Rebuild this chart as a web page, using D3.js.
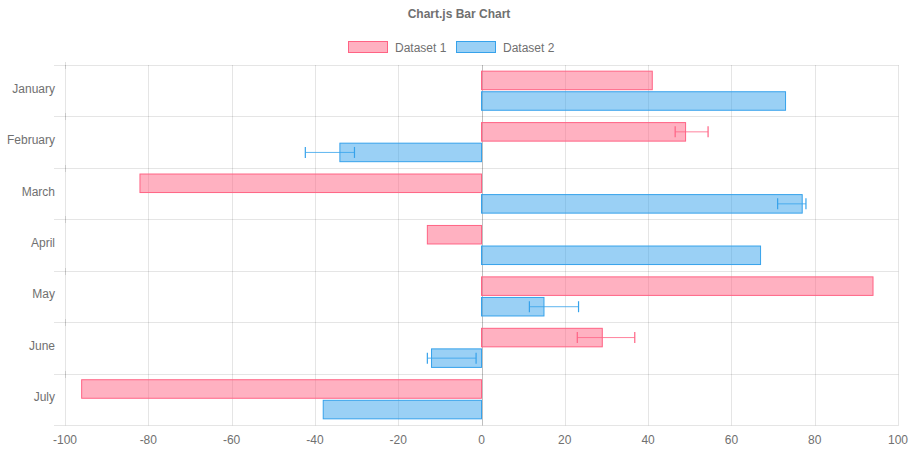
<!DOCTYPE html>
<html>
<head>
<meta charset="utf-8">
<script src="https://cdn.jsdelivr.net/npm/d3@7"></script>
<style>
  html, body { margin: 0; padding: 0; background: #fff; }
  svg { display: block; font-family: "Liberation Sans", Arial, Helvetica, sans-serif; }
</style>
</head>
<body>
<svg id="chart" width="918" height="450"></svg>
<script>
const categories = ["January", "February", "March", "April", "May", "June", "July"];
const seriesNames = ["Dataset 1", "Dataset 2"];
const dataset1 = [41, 49, -82, -13, 94, 29, -96];
const dataset2 = [73, -34, 77, 67, 15, -12, -38];
// error bars [min, max] or null
const errors1 = [null, [46.5, 54.4], null, null, null, [23, 36.8], null];
const errors2 = [null, [-42.3, -30.5], [71.1, 77.9], null, [11.5, 23.3], [-13.0, -1.3], null];
const xTicks = [-100, -80, -60, -40, -20, 0, 20, 40, 60, 80, 100];

const fills = ["rgba(255,99,132,0.5)", "rgba(54,162,235,0.5)"];
const strokes = ["rgb(255,99,132)", "rgb(54,162,235)"];
const gridColor = "rgba(0,0,0,0.1)";
const textColor = "#707070";

const svg = d3.select("#chart");
const pLeft = 65, pRight = 898, pTop = 65, pBottom = 425;

const x = d3.scaleLinear().domain([-100, 100]).range([pLeft, pRight]);
const y = d3.scaleBand().domain(categories).range([pTop, pBottom]);
const inner = d3.scaleBand().domain([0, 1]).range([0, y.bandwidth() * 0.8]);
const barH = inner.bandwidth() * 0.9;

// Title
svg.append("text").attr("x", 459).attr("y", 18).attr("text-anchor", "middle")
  .attr("font-size", 12).attr("font-weight", "bold").attr("fill", textColor)
  .text("Chart.js Bar Chart");

// Legend
const legendX = [348, 456];
seriesNames.forEach((name, i) => {
  svg.append("rect").attr("x", legendX[i] + 0.5).attr("y", 41.5).attr("width", 39).attr("height", 11)
    .attr("fill", fills[i]).attr("stroke", strokes[i]).attr("stroke-width", 1);
  svg.append("text").attr("x", legendX[i] + 47).attr("y", 51.5)
    .attr("font-size", 12).attr("fill", textColor).text(name);
});

const g = svg.append("g");

// Horizontal grid lines at category boundaries
const bounds = categories.map(c => y(c)).concat([pBottom]);
bounds.forEach(b => {
  g.append("line").attr("x1", 54).attr("x2", pRight + 0.5)
    .attr("y1", Math.round(b) + 0.5).attr("y2", Math.round(b) + 0.5)
    .attr("stroke", gridColor).attr("stroke-width", 1);
});

// Vertical grid lines
xTicks.forEach(t => {
  const px = Math.round(x(t)) + 0.5;
  g.append("line").attr("x1", px).attr("x2", px).attr("y1", pTop).attr("y2", pBottom + 0.5)
    .attr("stroke", t === 0 ? "rgba(0,0,0,0.25)" : gridColor).attr("stroke-width", 1);
});

// small marks on y axis at gridlines
bounds.slice(0, 7).forEach(b => {
  g.append("line").attr("x1", pLeft + 0.5).attr("x2", pLeft + 0.5)
    .attr("y1", Math.round(b) - 3).attr("y2", Math.round(b) + 4)
    .attr("stroke", "rgba(0,0,0,0.12)").attr("stroke-width", 1);
});

// X tick labels
xTicks.forEach(t => {
  svg.append("text").attr("x", x(t)).attr("y", 444).attr("text-anchor", "middle")
    .attr("font-size", 12).attr("fill", textColor).text(t);
});

// Y labels
categories.forEach(c => {
  svg.append("text").attr("x", 55).attr("y", y(c) + y.bandwidth() / 2 + 2)
    .attr("text-anchor", "end").attr("font-size", 12).attr("fill", textColor).text(c);
});

// Bars
const allData = [dataset1, dataset2];
const allErr = [errors1, errors2];
allData.forEach((vals, si) => {
  vals.forEach((v, ci) => {
    const y0 = y(categories[ci]) + y.bandwidth() * 0.1 + inner(si) + (inner.bandwidth() - barH) / 2;
    const x0 = Math.min(x(0), x(v)), w = Math.abs(x(v) - x(0));
    g.append("rect").attr("x", x0).attr("y", y0).attr("width", w).attr("height", barH)
      .attr("fill", fills[si]).attr("stroke", strokes[si]).attr("stroke-width", 1);
    const e = allErr[si][ci];
    if (e) {
      const cy = y0 + barH / 2;
      const eg = g.append("g").attr("stroke", strokes[si]).attr("stroke-width", 1);
      eg.append("line").attr("x1", x(e[0])).attr("x2", x(e[1])).attr("y1", cy).attr("y2", cy)
        .attr("stroke-opacity", 0.8);
      [e[0], e[1]].forEach(ev => {
        eg.append("line").attr("x1", x(ev)).attr("x2", x(ev)).attr("y1", cy - 5.5).attr("y2", cy + 5.5)
          .attr("stroke-width", 1.2);
      });
    }
  });
});
</script>
</body>
</html>
